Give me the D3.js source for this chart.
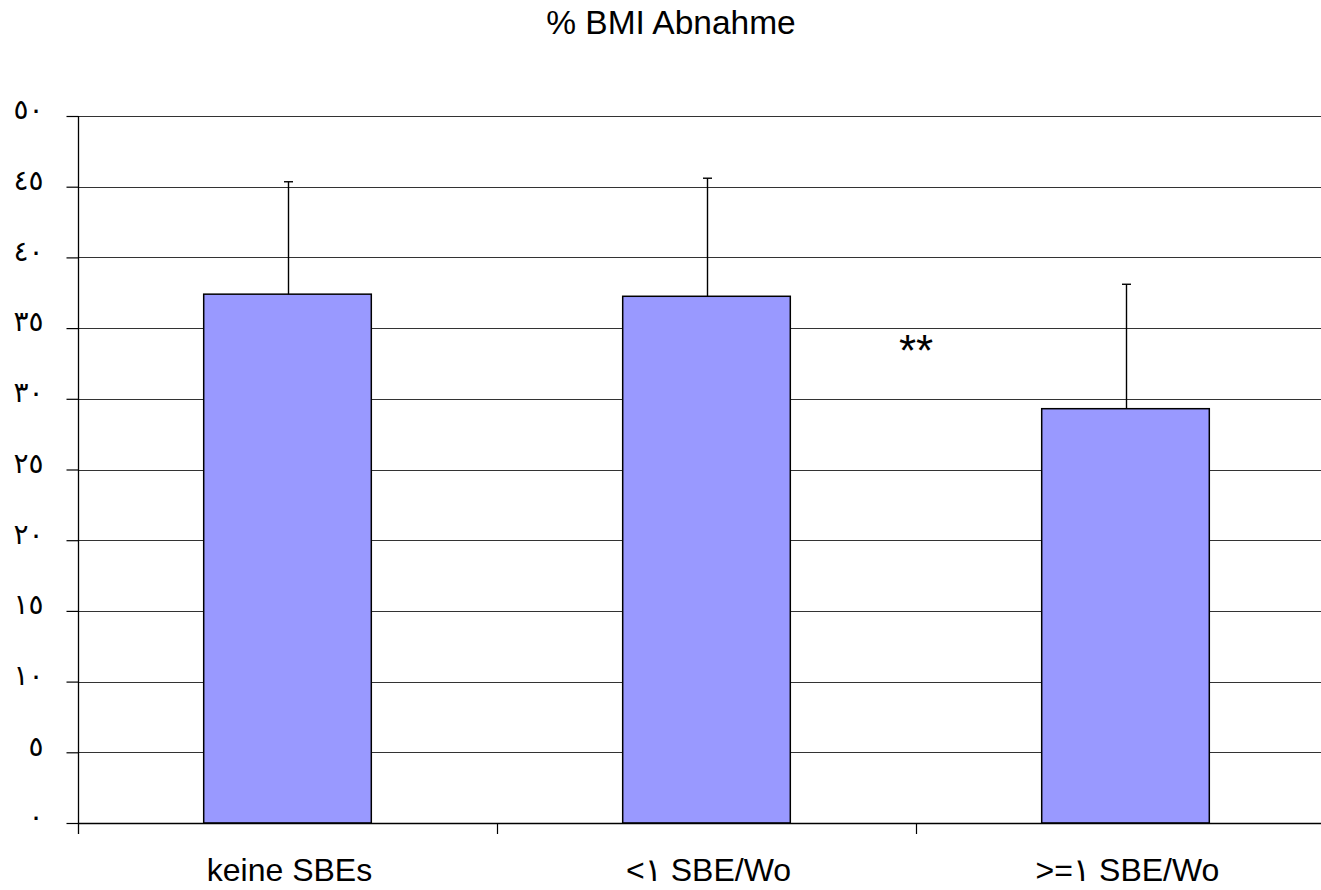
<!DOCTYPE html>
<html><head><meta charset="utf-8">
<script src="https://cdn.jsdelivr.net/npm/d3@7"></script>
<style>
html,body{margin:0;padding:0;background:#fff;}
svg{display:block;font-family:"Liberation Sans",Arial,"DejaVu Sans",sans-serif;}
</style></head>
<body>
<svg id="chart" width="1321" height="890"></svg>
<script>
const title = "% BMI Abnahme";
const categories = ["keine SBEs", "<١ SBE/Wo", ">=١ SBE/Wo"];
const means = [37.4, 37.25, 29.3];
const errors = [7.95, 8.35, 8.8];
const yTicks = [0, 5, 10, 15, 20, 25, 30, 35, 40, 45, 50];
const yTickLabels = ["٠", "٥", "١٠", "١٥", "٢٠", "٢٥", "٣٠", "٣٥", "٤٠", "٤٥", "٥٠"];
const significance = {label: "**", between: [1, 2], value: 33.9};

const svg = d3.select("#chart");
const m = {left: 78, top: 116, bottom: 823, right: 1335};

const x = d3.scaleBand().domain(d3.range(categories.length)).range([m.left, m.right]).paddingInner(0).paddingOuter(0);
const y = d3.scaleLinear().domain([0, 50]).range([m.bottom, m.top]);
const barW = x.bandwidth() * 0.4;

// title
svg.append("text").attr("x", 671).attr("y", 34).attr("text-anchor", "middle")
  .attr("font-size", 33.5).attr("fill", "#000").text(title);

// gridlines
svg.append("g").selectAll("line").data(yTicks.filter(d => d > 0)).join("line")
  .attr("x1", m.left).attr("x2", m.right)
  .attr("y1", d => Math.round(y(d)) + 0.5).attr("y2", d => Math.round(y(d)) + 0.5)
  .attr("stroke", "#333").attr("stroke-width", 1.2);

// bars
svg.append("g").selectAll("rect").data(means).join("rect")
  .attr("x", (d, i) => x(i) + x.bandwidth() / 2 - barW / 2)
  .attr("y", d => y(d))
  .attr("width", barW)
  .attr("height", d => y(0) - y(d))
  .attr("fill", "#9999FF").attr("stroke", "#000").attr("stroke-width", 1.5);

// error bars
const eb = svg.append("g").attr("stroke", "#000").attr("stroke-width", 1.4);
means.forEach((d, i) => {
  const cx = Math.round(x(i) + x.bandwidth() / 2) + 0.5;
  eb.append("line").attr("x1", cx).attr("x2", cx).attr("y1", y(d)).attr("y2", y(d + errors[i]));
  eb.append("line").attr("x1", cx - 4.5).attr("x2", cx + 4.5).attr("y1", y(d + errors[i])).attr("y2", y(d + errors[i]));
});

// y axis
const yAxis = d3.axisLeft(y).tickValues(yTicks).tickSize(12).tickFormat((d, i) => yTickLabels[i]);
const gy = svg.append("g").attr("transform", `translate(${m.left + 0.5},0)`).call(yAxis);
gy.select(".domain").remove();
gy.selectAll(".tick line").attr("stroke", "#000").attr("stroke-width", 1.2);
gy.selectAll(".tick text").attr("font-size", 28).attr("fill", "#000").attr("x", -35).attr("dy", "0.1em")
  .attr("letter-spacing", 4)
  .attr("font-family", "'DejaVu Sans',sans-serif");
svg.append("line").attr("x1", m.left + 0.5).attr("x2", m.left + 0.5).attr("y1", m.top).attr("y2", m.bottom + 11)
  .attr("stroke", "#000").attr("stroke-width", 1.3);

// x axis
svg.append("line").attr("x1", m.left).attr("x2", m.right).attr("y1", m.bottom + 0.5).attr("y2", m.bottom + 0.5)
  .attr("stroke", "#000").attr("stroke-width", 1.3);
svg.append("g").selectAll("line").data(d3.range(1, categories.length)).join("line")
  .attr("x1", d => Math.round(x(d)) + 0.5).attr("x2", d => Math.round(x(d)) + 0.5)
  .attr("y1", m.bottom).attr("y2", m.bottom + 11)
  .attr("stroke", "#000").attr("stroke-width", 1.2);
svg.append("g").selectAll("text").data(categories).join("text")
  .attr("x", (d, i) => x(i) + x.bandwidth() / 2 + 2)
  .attr("y", 881).attr("text-anchor", "middle").attr("font-size", 32).attr("fill", "#000")
  .text(d => d);

// significance marker
svg.append("text").attr("x", x(significance.between[1])).attr("y", y(significance.value) + 22)
  .attr("text-anchor", "middle").attr("font-size", 44).attr("fill", "#000").text(significance.label);
</script>
</body></html>
